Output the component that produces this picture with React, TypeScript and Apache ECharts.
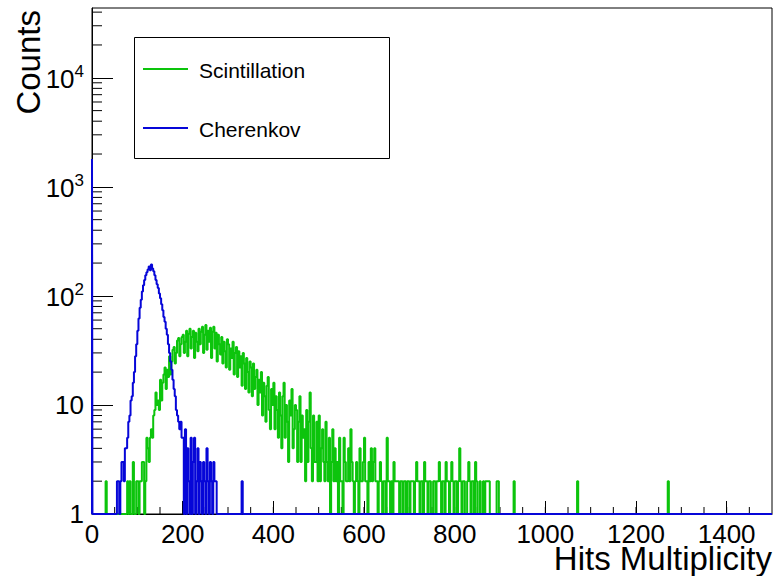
import React, { useEffect, useRef } from "react";
import * as echarts from "echarts";

// ---- axis ranges ----
const X_MIN = 0;
const X_MAX = 1500;
const Y_MIN = 1;
const Y_MAX = 43650;
const BIN_WIDTH = 2.5;

// ---- tick labels ----
const xTickLabels = ["0", "200", "400", "600", "800", "1000", "1200", "1400"];
const yDecadeLabels = ["1", "10", "10^2", "10^3", "10^4"];

// ---- Scintillation: counts per 2.5-wide bin, from 0 to 897.5 (20 bins per row) ----
const scintillationCounts = [
  0, 0, 0, 0, 0, 0, 0, 0, 0, 0, 0, 0, 2, 0, 0, 0, 0, 0, 0, 0, // 0
  0, 0, 0, 0, 0, 0, 0, 0, 0, 0, 0, 2, 0, 2, 0, 0, 3, 0, 0, 2, // 50
  2, 0, 2, 2, 3, 3, 0, 2, 5, 4, 3, 5, 6, 5, 8, 9, 13, 10, 11, 9, // 100
  17, 11, 16, 19, 22, 14, 21, 18, 28, 19, 25, 32, 34, 24, 30, 39, 41, 28, 36, 42, // 150
  44, 30, 38, 48, 28, 45, 50, 33, 42, 48, 27, 46, 38, 31, 50, 36, 47, 52, 30, 44, // 200
  54, 32, 48, 38, 51, 27, 47, 52, 33, 46, 25, 44, 36, 29, 42, 24, 38, 31, 22, 40, // 250
  36, 21, 33, 27, 38, 19, 30, 34, 18, 31, 22, 28, 15, 30, 24, 14, 27, 20, 13, 25, // 300
  22, 12, 24, 14, 18, 21, 10, 17, 13, 20, 8, 16, 12, 7, 15, 18, 9, 6, 14, 10, // 350
  16, 6, 12, 9, 5, 13, 8, 4, 12, 16, 5, 10, 7, 3, 11, 8, 14, 4, 6, 10, // 400
  9, 3, 7, 12, 3, 8, 5, 6, 2, 9, 3, 7, 13, 4, 2, 8, 3, 3, 7, 2, // 450
  8, 2, 4, 6, 3, 2, 7, 3, 2, 5, 0, 3, 6, 2, 4, 2, 3, 0, 5, 2, // 500
  2, 0, 5, 3, 2, 2, 4, 2, 6, 3, 2, 0, 2, 3, 2, 0, 4, 2, 2, 3, // 550
  5, 2, 2, 0, 3, 2, 4, 2, 3, 4, 2, 2, 0, 2, 3, 2, 0, 2, 2, 0, // 600
  5, 2, 2, 0, 2, 0, 3, 2, 2, 2, 2, 0, 2, 2, 0, 2, 2, 0, 2, 2, // 650
  0, 2, 2, 2, 0, 2, 3, 2, 2, 0, 2, 2, 0, 3, 2, 2, 0, 2, 2, 0, // 700
  0, 2, 2, 0, 2, 2, 3, 2, 0, 2, 2, 0, 3, 2, 2, 0, 2, 3, 2, 0, // 750
  2, 2, 0, 2, 4, 2, 0, 2, 2, 0, 0, 2, 3, 2, 0, 2, 2, 0, 3, 2, // 800
  0, 0, 2, 0, 0, 2, 0, 2, 2, 2, 2, 0, 0, 0, 0, 0, 0, 2, 2, 0, // 850
];
// isolated far-tail bins of the scintillation histogram
const scintillationTailEdges = [930, 1070, 1270];
const scintillationTailCounts = [2, 2, 2];

// ---- Cherenkov: counts per 2.5-wide bin, from 0 to 347.5 (20 bins per row) ----
const cherenkovZeroBinCount = 1800; // narrow spike at x = 0
const cherenkovCounts = [
  0, 0, 0, 0, 0, 0, 0, 0, 0, 0, 0, 0, 0, 0, 0, 0, 0, 0, 0, 0, // 0
  0, 0, 2, 2, 0, 2, 3, 3, 2, 4, 4, 5, 7, 8, 11, 12, 16, 20, 28, 36, // 50
  48, 62, 78, 92, 110, 125, 140, 155, 165, 175, 186, 172, 194, 178, 168, 155, 140, 128, 118, 105, // 100
  95, 84, 74, 64, 58, 50, 44, 36, 30, 25, 21, 17, 14, 12, 9, 8, 7, 6, 7, 5, // 150
  5, 0, 6, 0, 4, 2, 0, 5, 0, 3, 5, 0, 2, 4, 0, 3, 2, 0, 3, 2, // 200
  0, 4, 2, 0, 3, 2, 0, 3, 2, 2, 0, 0, 0, 0, 0, 0, 0, 0, 0, 0, // 250
  0, 0, 0, 0, 0, 0, 0, 0, 0, 0, 0, 0, 2, 0, 0, 0, 0, 0, 0, 0, // 300
];

const GREEN = "#0cc40c";
const BLUE = "#0606d8";
const FONT = "'Liberation Sans', Arial, Helvetica, sans-serif";

function denseBins(counts: number[], tailEdges: number[] = [], tailCounts: number[] = []) {
  const n = Math.round((X_MAX - X_MIN) / BIN_WIDTH);
  const arr = new Array(n).fill(0);
  counts.forEach((c, i) => (arr[i] = c));
  tailEdges.forEach((e, i) => (arr[Math.round(e / BIN_WIDTH)] = tailCounts[i]));
  return arr;
}

function stepPoints(dense: number[], spike?: number) {
  const pts: number[][] = [];
  if (spike !== undefined) {
    pts.push([0, Y_MIN], [0, spike], [1, Math.max(dense[0], Y_MIN)]);
  } else {
    pts.push([0, Math.max(dense[0], Y_MIN)]);
  }
  for (let i = 1; i < dense.length; i++) pts.push([i * BIN_WIDTH, Math.max(dense[i], Y_MIN)]);
  pts.push([X_MAX, Math.max(dense[dense.length - 1], Y_MIN)]);
  return pts;
}

// minor tick positions
const yMinorTicks: number[] = [];
for (let d = 1; d <= 10000; d *= 10) for (let m = 2; m <= 9; m++) if (d * m < Y_MAX) yMinorTicks.push(d * m);
const xMinorTicks: number[] = [];
for (let v = 50; v < X_MAX; v += 50) xMinorTicks.push(v);

export default function App() {
  const ref = useRef<HTMLDivElement>(null);
  useEffect(() => {
    const chart = echarts.init(ref.current!, null, { renderer: "svg" });
    const scint = stepPoints(denseBins(scintillationCounts, scintillationTailEdges, scintillationTailCounts));
    const cher = stepPoints(denseBins(cherenkovCounts), cherenkovZeroBinCount);
    const option: any = {
      animation: false,
      backgroundColor: "#fff",
      textStyle: { fontFamily: FONT },
      grid: { left: 92, right: 1, top: 8, bottom: 62, show: true, borderColor: "#000", borderWidth: 1 },
      xAxis: {
        type: "value",
        min: X_MIN,
        max: X_MAX,
        interval: 200,
        axisLine: { show: true, lineStyle: { color: "#000", width: 1 } },
        axisTick: { show: true, inside: true, length: 13, lineStyle: { color: "#000" } },
        splitLine: { show: false },
        axisLabel: {
          fontSize: 26,
          lineHeight: 22,
          color: "#000",
          fontFamily: FONT,
          margin: 9,
          showMaxLabel: false,
          formatter: (v: number) => {
            const i = Math.round(v / 200);
            return Math.abs(v - i * 200) < 1e-6 && xTickLabels[i] !== undefined ? xTickLabels[i] : "";
          },
        },
      },
      yAxis: {
        type: "log",
        logBase: 10,
        min: Y_MIN,
        max: Y_MAX,
        axisLine: { show: true, lineStyle: { color: "#000", width: 1 } },
        axisTick: { show: true, inside: true, length: 21, lineStyle: { color: "#000" } },
        splitLine: { show: false },
        axisLabel: {
          color: "#000",
          margin: 8,
          showMaxLabel: false,
          formatter: (v: number) => {
            const e = Math.round(Math.log10(v));
            if (Math.abs(Math.log10(v) - e) > 1e-6) return "";
            const lab = yDecadeLabels[e];
            if (!lab) return "";
            if (lab.indexOf("^") < 0) return "{b|" + lab + "}";
            const [base, exp] = lab.split("^");
            return "{b|" + base + "}{s|" + exp + "}";
          },
          rich: {
            b: { fontSize: 26, fontFamily: FONT, color: "#000", verticalAlign: "bottom" },
            s: { fontSize: 17, fontFamily: FONT, color: "#000", verticalAlign: "bottom", padding: [0, 0, 12, 0] },
          },
        },
      },
      series: [
        {
          name: "Scintillation",
          type: "line",
          step: "end",
          data: scint,
          symbol: "none",
          clip: false,
          lineStyle: { color: GREEN, width: 2 },
          itemStyle: { color: GREEN },
          z: 2,
        },
        {
          name: "Cherenkov",
          type: "line",
          step: "end",
          data: cher,
          symbol: "none",
          clip: false,
          lineStyle: { color: BLUE, width: 2 },
          itemStyle: { color: BLUE },
          z: 3,
        },
        {
          type: "custom",
          silent: true,
          data: yMinorTicks.map((v) => [X_MIN, v]),
          renderItem: (params: any, api: any) => {
            const p = api.coord([X_MIN, api.value(1)]);
            return {
              type: "line",
              shape: { x1: p[0], y1: p[1], x2: p[0] + 10, y2: p[1] },
              style: { stroke: "#000", lineWidth: 1 },
            };
          },
          z: 1,
        },
        {
          type: "custom",
          silent: true,
          data: xMinorTicks.map((v) => [v, Y_MIN]),
          renderItem: (params: any, api: any) => {
            const p = api.coord([api.value(0), Y_MIN]);
            return {
              type: "line",
              shape: { x1: p[0], y1: p[1], x2: p[0], y2: p[1] - 7 },
              style: { stroke: "#000", lineWidth: 1 },
            };
          },
          z: 1,
        },
      ],
      graphic: [
        {
          type: "rect",
          z: 10,
          shape: { x: 134.5, y: 37.5, width: 255, height: 121 },
          style: { fill: "#fff", stroke: "#000", lineWidth: 1 },
        },
        { type: "line", z: 11, shape: { x1: 143, y1: 69, x2: 188, y2: 69 }, style: { stroke: GREEN, lineWidth: 2 } },
        { type: "line", z: 11, shape: { x1: 143, y1: 128, x2: 188, y2: 128 }, style: { stroke: BLUE, lineWidth: 2 } },
        {
          type: "text",
          z: 11,
          x: 199,
          y: 70,
          style: { text: "Scintillation", fontSize: 21, fontFamily: FONT, fill: "#000", verticalAlign: "middle" },
        },
        {
          type: "text",
          z: 11,
          x: 199,
          y: 129,
          style: { text: "Cherenkov", fontSize: 21, fontFamily: FONT, fill: "#000", verticalAlign: "middle" },
        },
        {
          type: "text",
          x: 28,
          y: 10,
          rotation: Math.PI / 2,
          style: { text: "Counts", fontSize: 33, fontFamily: FONT, fill: "#000", align: "right", verticalAlign: "middle" },
        },
        {
          type: "text",
          x: 772,
          y: 558,
          style: {
            text: "Hits Multiplicity",
            fontSize: 33,
            lineHeight: 24,
            fontFamily: FONT,
            fill: "#000",
            align: "right",
            verticalAlign: "middle",
          },
        },
      ],
    };
    chart.setOption(option);
    return () => chart.dispose();
  }, []);
  return (
    <div
      ref={ref}
      style={{ position: "fixed", left: 0, top: 0, width: 773, height: 576, background: "#fff" }}
    />
  );
}
